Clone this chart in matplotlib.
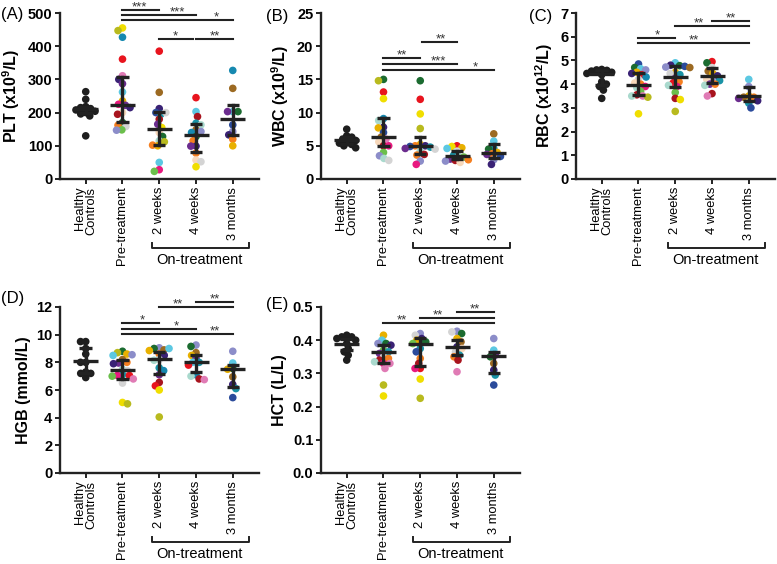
import matplotlib
matplotlib.use('Agg')
import matplotlib.pyplot as plt
import matplotlib.transforms as mtrans
import numpy as np

plt.rcParams['font.family'] = ['Liberation Sans', 'DejaVu Sans']
plt.rcParams['mathtext.fontset'] = 'custom'
plt.rcParams['mathtext.rm'] = 'Liberation Sans:bold'
plt.rcParams['mathtext.bf'] = 'Liberation Sans:bold'
plt.rcParams['mathtext.it'] = 'Liberation Sans:bold'

CATEGORIES = ['Healthy\nControls', 'Pre-treatment', '2 weeks', '4 weeks', '3 months']
GROUP_LABEL = 'On-treatment'

# palette (patient colours)
Y = '#f0de00'; OL = '#b8ba1e'; TB = '#1689b0'; R = '#e8141e'; PK = '#e07bb5'
IN = '#3a2275'; PU = '#6b2c8e'; LB = '#5cc8e2'; GD = '#e8b000'; MG = '#e8197f'
PE = '#f7d8bb'; DR = '#a8141e'; DG = '#1b6b30'; O = '#f57f1f'; LG = '#d4d4d4'
GN = '#6bbf4b'; LV = '#8c8dc9'; BR = '#9c6a22'; LT = '#a9d9cd'; DB = '#2b4b9b'
TE = '#1a93a6'; HC = '#1e1e1e'

# ---------------- PLT ----------------
PLT_HC = [263, 240, 218, 215, 212, 208, 204, 200, 196, 190, 130]
PLT_PRE = [455, 447, 427, 361, 311, 300, 287, 262, 235, 225, 222, 215, 200, 195, 170, 162, 158, 148, 147]
PLT_PRE_C = [Y, OL, TB, R, PK, IN, PU, LB, GD, MG, PU, IN, PE, DR, DG, O, LG, GN, LV]
PLT_2W = [385, 261, 212, 200, 195, 200, 180, 165, 155, 140, 128, 115, 112, 100, 102, 50, 28, 23]
PLT_2W_C = [R, BR, IN, DB, TE, LG, DR, PU, Y, PE, DG, LT, OL, GD, O, LB, MG, GN]
PLT_4W = [245, 203, 188, 168, 163, 148, 143, 140, 128, 115, 99, 99, 78, 57, 52, 37]
PLT_4W_C = [R, LB, DR, TE, LT, BR, LV, TB, DG, O, IN, PU, O, PE, LG, Y]
PLT_3M = [327, 273, 203, 203, 203, 163, 143, 133, 120, 100]
PLT_3M_C = [TB, BR, LB, PU, DG, DB, LV, IN, O, GD]
PLT_MED = [210, 224, 152, 133, 182]
PLT_LO = [200, 171, 103, 82, 133]
PLT_HI = [216, 306, 201, 165, 222]

# ---------------- WBC ----------------
WBC_HC = [7.5, 6.5, 6.3, 6.0, 5.8, 5.6, 5.4, 5.2, 5.0, 4.7]
WBC_PRE = [15.0, 14.8, 13.1, 12.1, 9.1, 8.8, 7.8, 7.7, 7.0, 6.3, 6.0, 5.6, 5.0, 5.0, 4.0, 3.5, 3.1, 2.8]
WBC_PRE_C = [DG, OL, R, Y, TB, LT, IN, GD, DB, BR, PK, PE, DR, MG, GN, LV, LT, LG]
WBC_2W = [14.8, 12.0, 9.8, 7.6, 5.2, 5.0, 5.0, 4.9, 4.8, 4.6, 4.5, 4.2, 3.7, 3.6, 2.7, 2.2]
WBC_2W_C = [DG, R, Y, OL, GD, O, IN, DB, TE, PU, LG, LT, DR, O, LV, MG]
WBC_4W = [5.0, 4.9, 4.7, 4.6, 4.2, 3.6, 3.4, 3.3, 3.0, 2.9, 2.8, 2.7, 2.5]
WBC_4W_C = [R, Y, GD, LB, LG, TE, LT, GN, PU, O, DR, LV, PE]
WBC_3M = [6.8, 5.7, 4.6, 4.5, 4.0, 3.8, 3.7, 3.4, 2.9, 2.2]
WBC_3M_C = [BR, LB, TE, DG, GD, O, PU, DB, LV, IN]
WBC_MED = [5.8, 6.3, 5.0, 3.5, 3.9]
WBC_LO = [5.3, 5.0, 3.7, 3.0, 3.1]
WBC_HI = [6.3, 9.2, 6.3, 4.2, 5.3]

# ---------------- RBC ----------------
RBC_HC = [4.62, 4.6, 4.58, 4.55, 4.5, 4.45, 4.4, 4.1, 4.0, 3.9, 3.75, 3.4]
RBC_PRE = [4.85, 4.7, 4.65, 4.6, 4.5, 4.45, 4.4, 4.3, 4.2, 4.05, 4.0, 3.9, 3.85, 3.7, 3.55, 3.5, 3.5, 3.45, 2.75]
RBC_PRE_C = [DB, DG, LB, LV, GD, IN, R, TB, LG, PE, O, MG, LT, GN, DR, PK, LT, OL, Y]
RBC_2W = [4.9, 4.8, 4.78, 4.75, 4.72, 4.7, 4.5, 4.45, 4.4, 4.25, 4.1, 4.05, 3.95, 3.9, 3.65, 3.4, 3.35, 2.85]
RBC_2W_C = [LB, IN, DG, DB, LV, BR, GD, LG, TE, PU, O, R, LT, MG, GN, DR, Y, OL]
RBC_4W = [4.95, 4.9, 4.7, 4.55, 4.45, 4.35, 4.2, 4.2, 4.15, 4.0, 4.0, 3.95, 3.6, 3.5]
RBC_4W_C = [R, DG, LG, BR, GD, IN, LV, PE, TE, PU, O, LT, DR, PK]
RBC_3M = [4.2, 3.9, 3.5, 3.45, 3.45, 3.4, 3.3, 3.2, 3.0]
RBC_3M_C = [LB, LV, GD, BR, O, PU, IN, TE, DB]
RBC_MED = [4.42, 3.97, 4.3, 4.33, 3.5]
RBC_LO = [3.95, 3.55, 3.88, 4.04, 3.28]
RBC_HI = [4.6, 4.48, 4.77, 4.67, 3.86]

# ---------------- HGB ----------------
HGB_HC = [9.5, 9.5, 9.0, 8.6, 8.0, 8.0, 7.3, 7.2, 7.2, 6.9]
HGB_PRE = [8.8, 8.7, 8.6, 8.55, 8.5, 8.2, 8.0, 7.95, 7.9, 7.5, 7.4, 7.1, 7.05, 7.05, 7.0, 6.8, 6.5, 5.1, 5.0]
HGB_PRE_C = [DG, OL, GD, LV, LB, BR, O, PU, IN, LT, LG, TE, MG, R, GN, PK, LG, Y, OL]
HGB_2W = [9.05, 9.0, 8.9, 8.85, 9.0, 8.6, 8.5, 8.2, 8.15, 7.6, 7.4, 7.1, 6.55, 6.3, 6.0, 4.05]
HGB_2W_C = [LV, DG, BR, GD, LB, O, IN, LG, LT, TE, TB, PU, DR, R, Y, OL]
HGB_4W = [9.25, 9.15, 8.7, 8.5, 8.3, 8.0, 8.0, 7.8, 7.1, 7.0, 6.8, 6.75]
HGB_4W_C = [LV, DG, BR, GD, PU, LB, TE, R, TB, LT, DR, PK]
HGB_3M = [8.8, 7.95, 7.55, 7.5, 6.95, 6.4, 6.1, 5.45]
HGB_3M_C = [LV, LB, DG, GD, BR, IN, TE, DB]
HGB_MED = [8.07, 7.42, 8.25, 8.05, 7.52]
HGB_LO = [7.23, 6.82, 7.13, 7.3, 6.22]
HGB_HI = [9.06, 8.14, 8.75, 8.5, 7.8]

# ---------------- HCT ----------------
HCT_HC = [0.415, 0.41, 0.41, 0.405, 0.40, 0.39, 0.375, 0.365, 0.355, 0.34]
HCT_PRE = [0.415, 0.40, 0.39, 0.39, 0.385, 0.37, 0.365, 0.36, 0.35, 0.345, 0.34, 0.335, 0.33, 0.33, 0.315, 0.265, 0.232]
HCT_PRE_C = [GD, LB, DG, LV, IN, GN, TE, PU, LG, O, DR, LT, MG, PK, PK, OL, Y]
HCT_2W = [0.42, 0.415, 0.405, 0.40, 0.395, 0.39, 0.375, 0.365, 0.345, 0.33, 0.315, 0.315, 0.283, 0.225]
HCT_2W_C = [LV, LG, IN, GD, DG, GN, TE, DB, O, DR, R, MG, Y, OL]
HCT_4W = [0.427, 0.425, 0.42, 0.405, 0.395, 0.38, 0.375, 0.365, 0.355, 0.35, 0.34, 0.305]
HCT_4W_C = [LV, LG, DG, GD, BR, IN, PE, LG, TE, O, DR, PK]
HCT_3M = [0.405, 0.37, 0.355, 0.35, 0.33, 0.31, 0.295, 0.265]
HCT_3M_C = [LV, LB, PU, DG, BR, IN, TE, DB]
HCT_MED = [0.389, 0.364, 0.388, 0.379, 0.353]
HCT_LO = [0.37, 0.331, 0.323, 0.355, 0.300]
HCT_HI = [0.405, 0.386, 0.406, 0.401, 0.364]

# significance annotations: (x1, x2, y, label, text_x)
PLT_SIG = [(1, 2, 510, '***', 1.47), (1, 3, 494, '***', 2.5), (1, 4, 478, '*', 3.54),
           (2, 2.93, 422, '*', 2.45), (3, 4, 422, '**', 3.5)]
WBC_SIG = [(2.05, 3.0, 20.7, '**', 2.55), (1, 2, 18.2, '**', 1.5),
           (1, 3, 17.35, '***', 2.5), (1, 4, 16.45, '*', 3.5)]
RBC_SIG = [(3, 4, 6.66, '**', 3.5), (2, 4, 6.44, '**', 2.65),
           (1, 2, 5.93, '*', 1.5), (1, 4, 5.72, '**', 2.5)]
HGB_SIG = [(3, 4, 12.36, '**', 3.5), (2, 4, 12.0, '**', 2.5), (1, 2, 10.87, '*', 1.53),
           (1, 3, 10.43, '*', 2.47), (1, 4, 10.02, '**', 3.5)]
HCT_SIG = [(3, 4, 0.486, '**', 3.48), (2, 4, 0.467, '**', 2.47), (1, 4, 0.452, '**', 1.5)]

PANELS = [
    dict(ylabel='PLT (x10$^{9}$/L)', ylim=500, step=100, fmt='{:.0f}',
         groups=[PLT_HC, PLT_PRE, PLT_2W, PLT_4W, PLT_3M],
         colors=[None, PLT_PRE_C, PLT_2W_C, PLT_4W_C, PLT_3M_C],
         med=PLT_MED, lo=PLT_LO, hi=PLT_HI, sig=PLT_SIG, pos=(60, 179)),
    dict(ylabel='WBC (x10$^{9}$/L)', ylim=25, step=5, fmt='{:.0f}',
         groups=[WBC_HC, WBC_PRE, WBC_2W, WBC_4W, WBC_3M],
         colors=[None, WBC_PRE_C, WBC_2W_C, WBC_4W_C, WBC_3M_C],
         med=WBC_MED, lo=WBC_LO, hi=WBC_HI, sig=WBC_SIG, pos=(321, 179)),
    dict(ylabel='RBC (x10$^{12}$/L)', ylim=7, step=1, fmt='{:.0f}',
         groups=[RBC_HC, RBC_PRE, RBC_2W, RBC_4W, RBC_3M],
         colors=[None, RBC_PRE_C, RBC_2W_C, RBC_4W_C, RBC_3M_C],
         med=RBC_MED, lo=RBC_LO, hi=RBC_HI, sig=RBC_SIG, pos=(576, 179)),
    dict(ylabel='HGB (mmol/L)', ylim=12, step=2, fmt='{:.0f}',
         groups=[HGB_HC, HGB_PRE, HGB_2W, HGB_4W, HGB_3M],
         colors=[None, HGB_PRE_C, HGB_2W_C, HGB_4W_C, HGB_3M_C],
         med=HGB_MED, lo=HGB_LO, hi=HGB_HI, sig=HGB_SIG, pos=(60, 473)),
    dict(ylabel='HCT (L/L)', ylim=0.5, step=0.1, fmt='{:.1f}',
         groups=[HCT_HC, HCT_PRE, HCT_2W, HCT_4W, HCT_3M],
         colors=[None, HCT_PRE_C, HCT_2W_C, HCT_4W_C, HCT_3M_C],
         med=HCT_MED, lo=HCT_LO, hi=HCT_HI, sig=HCT_SIG, pos=(321, 473)),
]

W, H = 777, 564
DPI = 100
fig = plt.figure(figsize=(W / DPI, H / DPI), dpi=DPI)

AX_W = 198.5
AX_H = 166
XMIN, XMAX = -0.7, 4.7
DIAM = 5.2  # px separation for swarm (allows slight overlap)
LINEC = '#222222'


def swarm(ax, xc, ys):
    p0 = ax.transData.transform((0, 0))
    px = ax.transData.transform((1, 0))[0] - p0[0]
    py = ax.transData.transform((0, 1))[1] - p0[1]
    placed = []
    out = []
    for k, v in enumerate(ys):
        yp = v * py
        cands = [0.0]
        for (xj, yj) in placed:
            dy = yp - yj
            if abs(dy) < DIAM:
                dx = np.sqrt(DIAM ** 2 - dy ** 2)
                cands += [xj + dx, xj - dx]
        sgn = 1 if k % 2 else -1
        cands = sorted(cands, key=lambda c: (round(abs(c), 6), sgn * c))
        chosen = 0.0
        for c in cands:
            ok = True
            for (xj, yj) in placed:
                if (c - xj) ** 2 + (yp - yj) ** 2 < DIAM ** 2 - 1e-6:
                    ok = False
                    break
            if ok:
                chosen = c
                break
        placed.append((chosen, yp))
        out.append(xc + chosen / px)
    return out


for P in PANELS:
    x0, ybot = P['pos']
    ax = fig.add_axes([x0 / W, (H - ybot) / H, AX_W / W, AX_H / H])
    ax.set_xlim(XMIN, XMAX)
    ax.set_ylim(0, P['ylim'])
    for s in ['top', 'right']:
        ax.spines[s].set_visible(False)
    for s in ['left', 'bottom']:
        ax.spines[s].set_linewidth(1.7)
        ax.spines[s].set_color(LINEC)
    ticks = np.arange(0, P['ylim'] + P['step'] / 2, P['step'])
    ax.set_yticks(ticks)
    ax.set_yticklabels([P['fmt'].format(t) for t in ticks], fontsize=10.5, fontweight='bold')
    ax.set_xticks(range(5))
    ax.set_xticklabels(CATEGORIES, rotation=90, fontsize=9.3, ha='center', va='top',
                       multialignment='right', linespacing=0.95)
    ax.tick_params(axis='both', direction='out', length=3.5, width=1.4, color=LINEC, pad=2)
    ax.set_ylabel(P['ylabel'], fontsize=11.5, fontweight='bold', labelpad=4)

    for i, vals in enumerate(P['groups']):
        cols = P['colors'][i] if P['colors'][i] is not None else [HC] * len(vals)
        xs = swarm(ax, i, vals)
        ax.scatter(xs, vals, s=30, c=cols, edgecolors='none', zorder=2, clip_on=False)
        # median + IQR
        ax.plot([i - 0.34, i + 0.34], [P['med'][i]] * 2, color=LINEC, lw=2.4, zorder=3,
                solid_capstyle='butt')
        ax.plot([i, i], [P['lo'][i], P['hi'][i]], color=LINEC, lw=2.4, zorder=3)
        for yv in (P['lo'][i], P['hi'][i]):
            ax.plot([i - 0.17, i + 0.17], [yv, yv], color=LINEC, lw=2.4, zorder=3,
                    solid_capstyle='butt')

    for (x1, x2, yy, lab, tx) in P['sig']:
        ax.plot([x1, x2], [yy, yy], color=LINEC, lw=1.5, clip_on=False, zorder=4)
        ax.annotate(lab, (tx, yy), xytext=(0, -0.3), textcoords='offset points',
                    ha='center', va='baseline', fontsize=9.5, color='#333333',
                    annotation_clip=False)

    # On-treatment bracket
    tr = mtrans.blended_transform_factory(ax.transData, ax.transAxes)
    yb = -69 / AX_H
    th = 5 / AX_H
    ax.plot([1.79, 1.79, 4.44, 4.44], [yb + th, yb, yb, yb + th], color=LINEC, lw=1.4,
            transform=tr, clip_on=False)
    ax.text(3.1, -81 / AX_H, GROUP_LABEL, transform=tr, ha='center', va='center',
            fontsize=10.5)

# panel tags
TAGS = [('(A)', 1, 15), ('(B)', 266, 17), ('(C)', 529, 17), ('(D)', 1, 298), ('(E)', 266, 305)]
for t, tx, ty in TAGS:
    fig.text(tx / W, 1 - ty / H, t, fontsize=12, ha='left', va='center')

fig.savefig('out.png', dpi=DPI)
